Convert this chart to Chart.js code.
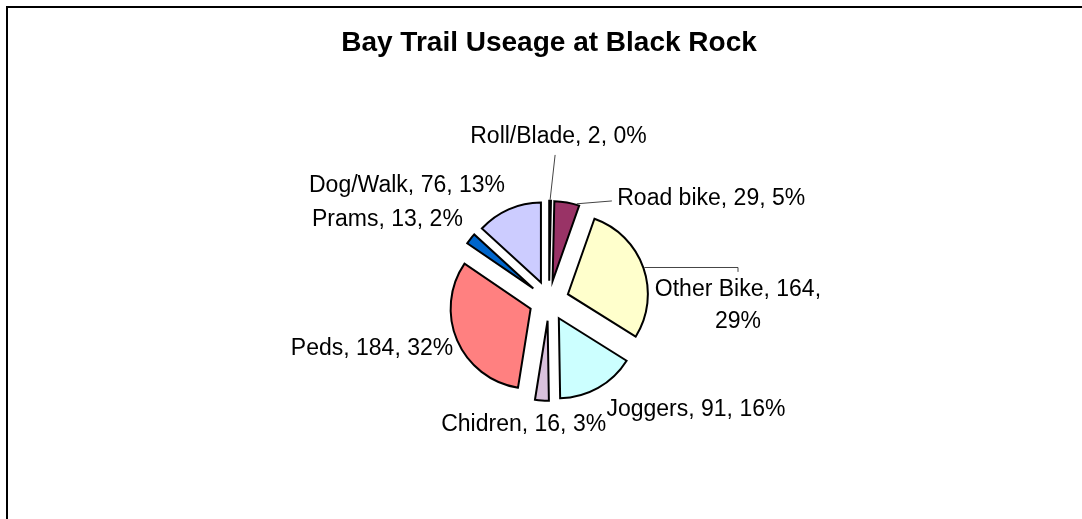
<!DOCTYPE html>
<html>
<head>
<meta charset="utf-8">
<script src="https://cdn.jsdelivr.net/npm/chart.js@4/dist/chart.umd.min.js"></script>
<style>
  html, body { margin: 0; padding: 0; background: #fff; overflow: hidden; width: 1082px; height: 519px; }
  #frame { position: absolute; left: 6px; top: 6px; width: 1300px; height: 800px; border: 2px solid #000; box-sizing: border-box; }
  #c { position: absolute; left: 0; top: 0; }
</style>
</head>
<body>
<div id="frame"></div>
<canvas id="c" width="1082" height="519"></canvas>
<script>
// ---- data ----
const categories = ['Roll/Blade', 'Road bike', 'Other Bike', 'Joggers', 'Chidren', 'Peds', 'Prams', 'Dog/Walk'];
const counts = [2, 29, 164, 91, 16, 184, 13, 76];
const titleText = 'Bay Trail Useage at Black Rock';

// ---- styles ----
const sliceColors = ['#9999FF', '#993366', '#FFFFCC', '#CCFFFF', '#D9C2DC', '#FF8080', '#0066CC', '#CCCCFF'];
const EXPLODE = 20;           // px each slice is pulled out
const PIE_RADIUS = 80;
// label placement in polar terms relative to pie centre (distance px, angle deg clockwise from top)
const labelDist  = [164, 123, 189, 183, 126, 183.4, 180.7, 182.7];
const labelAngle = [3.3, 33.7, 91.5, 126.6, 191.6, 254.8, 296.6, 309];
const labelAlign = ['center', 'left', 'center', 'center', 'center', 'center', 'center', 'center'];
const labelWrap  = [false, false, true, false, false, false, false, false];
// leader lines: index -> {shift: deg added to slice mid angle for start, dist, angle of end point, elbow}
const leaders = {
  0: { shift: 0, dist: 146, angle: 2.4, elbow: false },
  1: { shift: 7, dist: 118, angle: 32.2, elbow: false },
  2: { shift: 0, dist: 191.2, angle: 81.3, elbow: true }
};

// ---- exploded slices: shift each arc outward along its mid angle ----
const ArcEl = Chart.ArcElement || (Chart.elements && Chart.elements.ArcElement);
const baseDraw = ArcEl.prototype.draw;
ArcEl.prototype.draw = function (ctx, area) {
  const mid = (this.startAngle + this.endAngle) / 2;
  ctx.save();
  ctx.translate(Math.cos(mid) * EXPLODE, Math.sin(mid) * EXPLODE);
  baseDraw.call(this, ctx, area);
  ctx.restore();
};

const total = counts.reduce((a, b) => a + b, 0);

const labelPlugin = {
  id: 'pieLabels',
  afterDatasetsDraw(chart) {
    const ctx = chart.ctx;
    const arcs = chart.getDatasetMeta(0).data;
    ctx.save();
    // leader lines
    ctx.strokeStyle = '#444';
    ctx.lineWidth = 1;
    Object.keys(leaders).forEach(k => {
      const i = +k, L = leaders[k], a = arcs[i];
      const mid = (a.startAngle + a.endAngle) / 2;
      const sx0 = a.x + Math.cos(mid) * EXPLODE, sy0 = a.y + Math.sin(mid) * EXPLODE;
      const sa = mid + L.shift * Math.PI / 180;
      const sx = sx0 + Math.cos(sa) * (a.outerRadius + 1), sy = sy0 + Math.sin(sa) * (a.outerRadius + 1);
      const ea = L.angle * Math.PI / 180;
      const ex = a.x + L.dist * Math.sin(ea), ey = a.y - L.dist * Math.cos(ea);
      ctx.beginPath();
      ctx.moveTo(sx, sy);
      if (L.elbow) ctx.lineTo(ex, sy);
      ctx.lineTo(ex, ey);
      ctx.stroke();
    });
    // labels
    ctx.fillStyle = '#000';
    ctx.font = '23px "Liberation Sans", Arial, sans-serif';
    ctx.textBaseline = 'middle';
    arcs.forEach((a, i) => {
      const pct = Math.round(counts[i] / total * 100) + '%';
      const lines = labelWrap[i]
        ? [categories[i] + ', ' + counts[i] + ',', pct]
        : [categories[i] + ', ' + counts[i] + ', ' + pct];
      const ang = labelAngle[i] * Math.PI / 180;
      const x = a.x + labelDist[i] * Math.sin(ang);
      const y = a.y - labelDist[i] * Math.cos(ang);
      const lh = 32;
      ctx.textAlign = labelAlign[i];
      lines.forEach((t, j) => {
        ctx.fillText(t, x, y + (j - (lines.length - 1) / 2) * lh);
      });
    });
    ctx.restore();
  }
};

new Chart(document.getElementById('c'), {
  type: 'pie',
  data: {
    labels: categories,
    datasets: [{
      data: counts,
      backgroundColor: sliceColors,
      borderColor: '#000',
      borderWidth: 2,
      borderJoinStyle: 'miter',
      hoverOffset: 0
    }]
  },
  options: {
    responsive: false,
    animation: false,
    radius: PIE_RADIUS,
    layout: { padding: { left: 16, right: 0, top: 0, bottom: 0 } },
    plugins: {
      legend: { display: false },
      tooltip: { enabled: false },
      title: {
        display: true,
        text: titleText,
        color: '#000',
        font: { family: '"Liberation Sans", Arial, sans-serif', size: 28, weight: 'bold', lineHeight: 1.2 },
        padding: { top: 26, bottom: 23 }
      }
    }
  },
  plugins: [labelPlugin]
});
</script>
</body>
</html>
